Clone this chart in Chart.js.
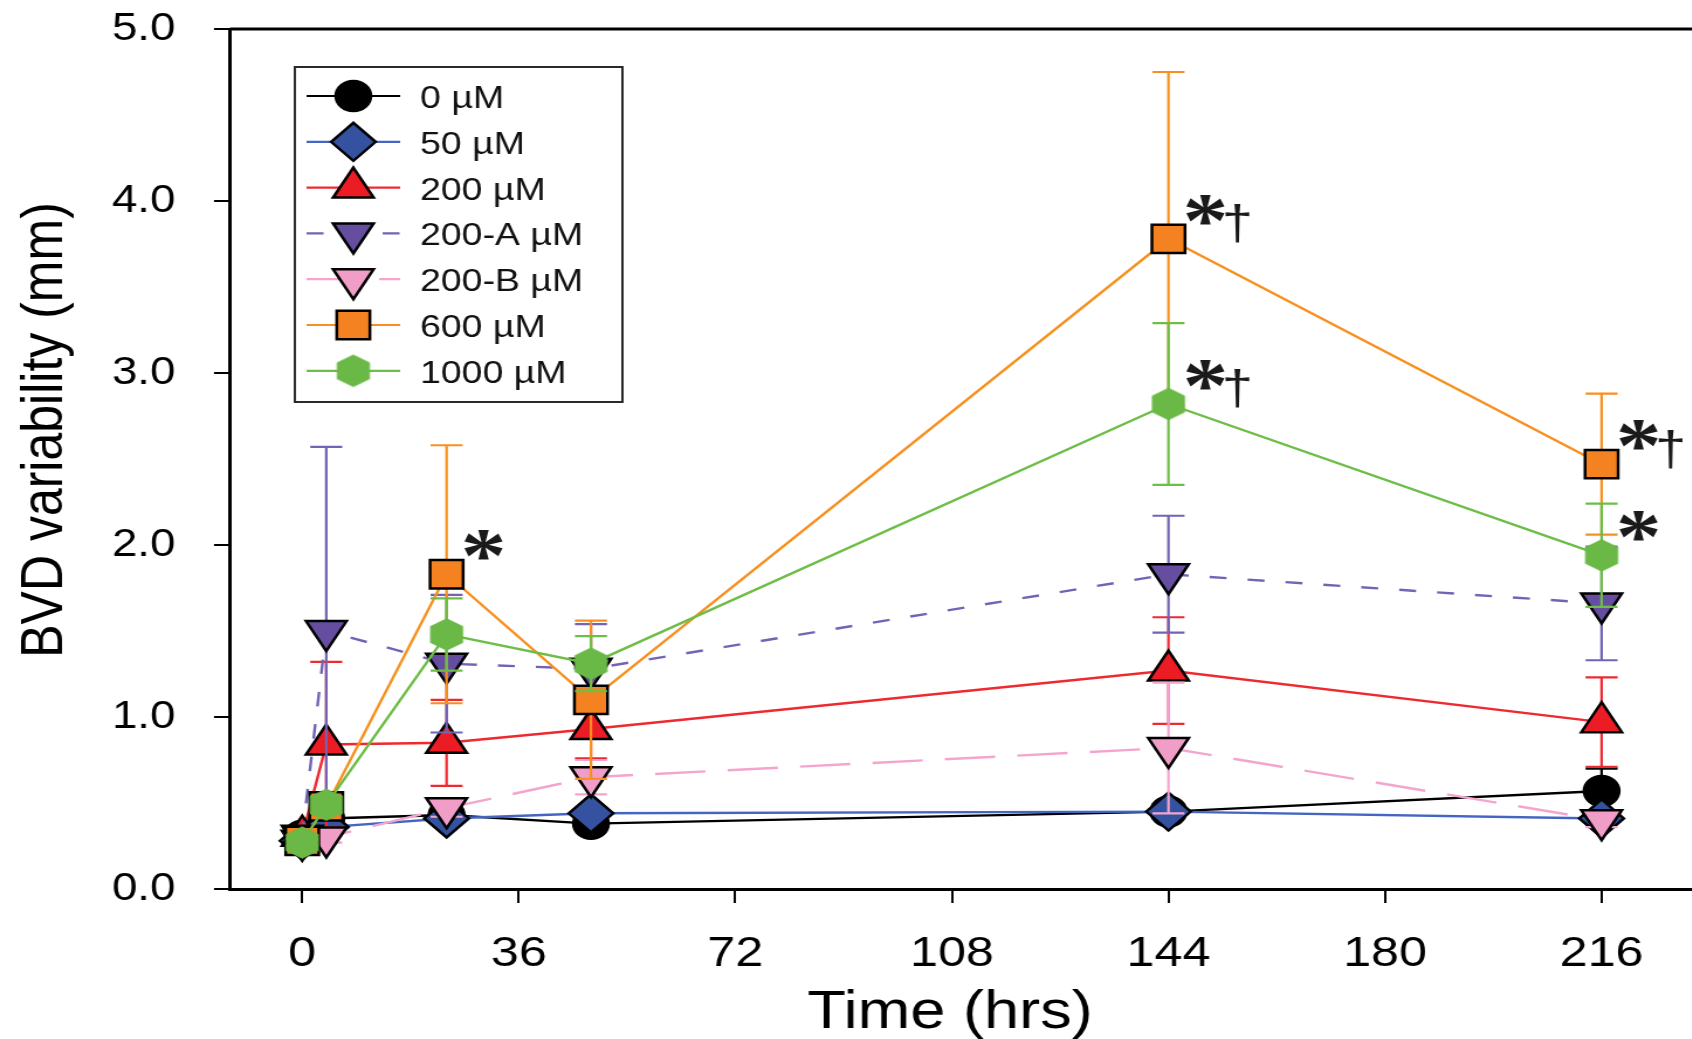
<!DOCTYPE html>
<html>
<head>
<meta charset="utf-8">
<title>BVD variability</title>
<script src="https://cdn.jsdelivr.net/npm/chart.js"></script>
<style>
  html, body { margin: 0; padding: 0; background: #fff; overflow: hidden; }
  /* the original figure is stretched sideways, so draw on a narrower canvas and widen it */
  #wrap { width: 1446px; height: 1039px; transform: scaleX(1.17); transform-origin: 0 0; }
</style>
</head>
<body>
<div id="wrap"><canvas id="bvdChart" width="1446" height="1039"></canvas></div>
<script>
// ==== data ====
const hours  = [0, 4, 24, 48, 144, 216];
const xTicks = [0, 36, 72, 108, 144, 180, 216];
const yTicks = [0, 1, 2, 3, 4, 5];

const seriesNames = ["0 µM", "50 µM", "200 µM", "200-A µM", "200-B µM", "600 µM", "1000 µM"];

// mean BVD variability (mm)
const bvd0     = [0.31, 0.41, 0.43, 0.38, 0.45, 0.57];
const bvd50    = [0.28, 0.36, 0.41, 0.44, 0.45, 0.41];
const bvd200   = [0.31, 0.84, 0.85, 0.93, 1.27, 0.97];
const bvd200A  = [0.31, 1.50, 1.31, 1.28, 1.83, 1.66];
const bvd200B  = [0.28, 0.30, 0.47, 0.65, 0.82, 0.40];
const bvd600   = [0.28, 0.48, 1.83, 1.10, 3.78, 2.47];
const bvd1000  = [0.27, 0.49, 1.48, 1.31, 2.82, 1.94];

// error bar half-lengths (mm)
const err0     = [0.03, 0.03, 0.03, 0.03, 0.03, 0.13];
const err50    = [0.02, 0.03, 0.03, 0.03, 0.03, 0.03];
const err200   = [0.03, 0.48, 0.25, 0.17, 0.31, 0.26];
const err200A  = [0.03, 1.07, 0.40, 0.26, 0.34, 0.33];
const err200B  = [0.02, 0.03, 0.05, 0.10, 0.38, 0.04];
const err600   = [0.02, 0.05, 0.75, 0.46, 0.97, 0.41];
const err1000  = [0.02, 0.05, 0.21, 0.16, 0.47, 0.30];

const seriesValues = [bvd0, bvd50, bvd200, bvd200A, bvd200B, bvd600, bvd1000];
const seriesErrors = [err0, err50, err200, err200A, err200B, err600, err1000];

// significance marks: series index, time index, text
const marks = [
  { series: 5, point: 2, text: "*" },
  { series: 5, point: 4, text: "*†" },
  { series: 6, point: 4, text: "*†" },
  { series: 5, point: 5, text: "*†" },
  { series: 6, point: 5, text: "*" }
];

// ==== look ====
function makeHexagon(r, color) {
  const c = document.createElement("canvas");
  const w = Math.ceil(r * Math.sqrt(3)) + 2, h = Math.ceil(2 * r) + 2;
  c.width = w; c.height = h;
  const g = c.getContext("2d");
  g.fillStyle = color;
  g.beginPath();
  for (let k = 0; k < 6; k++) {
    const a = Math.PI / 2 + k * Math.PI / 3;
    const px = w / 2 + r * Math.cos(a), py = h / 2 - r * Math.sin(a);
    if (k === 0) g.moveTo(px, py); else g.lineTo(px, py);
  }
  g.closePath();
  g.fill();
  return c;
}

const styles = [
  { line: "#000000", fill: "#000000", shape: "circle",   radius: 15, rot: 0,   dash: [] },
  { line: "#4466c2", fill: "#34529f", shape: "rectRot",  radius: 19, rot: 0,   dash: [] },
  { line: "#ee2a30", fill: "#ec1c24", shape: "triangle", radius: 20, rot: 0,   dash: [] },
  { line: "#7263b4", fill: "#654ea0", shape: "triangle", radius: 20, rot: 180, dash: [14.5, 18] },
  { line: "#f4a5cd", fill: "#f09ec8", shape: "triangle", radius: 20, rot: 180, dash: [43, 19] },
  { line: "#f7901e", fill: "#f48220", shape: "rect",     radius: 20, rot: 0,   dash: [] },
  { line: "#6dbd46", fill: "#6ab845", shape: makeHexagon(16.3, "#6ab845"), radius: 16, rot: 0, dash: [] }
];

const datasets = seriesNames.map((name, i) => ({
  label: name,
  data: hours.map((h, j) => ({ x: h, y: seriesValues[i][j] })),
  borderColor: styles[i].line,
  borderWidth: 2.4,
  borderDash: styles[i].dash,
  pointStyle: styles[i].shape,
  pointRadius: styles[i].radius,
  pointRotation: styles[i].rot,
  pointBackgroundColor: styles[i].fill,
  pointBorderColor: "#000000",
  pointBorderWidth: 2.5,
  tension: 0,
  fill: false,
  order: seriesNames.length - 1 - i   // later series on top
}));

// ==== plugins ====
const capHalf = 13.7;

const errorBars = {
  id: "errorBars",
  beforeDatasetDraw(chart, args) {
    const ds = chart.data.datasets[args.index];
    const errs = seriesErrors[args.index];
    const yScale = chart.scales.y;
    const ctx = chart.ctx;
    ctx.save();
    ctx.strokeStyle = ds.borderColor;
    ctx.lineWidth = 2.2;
    ctx.setLineDash([]);
    args.meta.data.forEach((pt, i) => {
      const v = ds.data[i].y, e = errs[i];
      const yTop = yScale.getPixelForValue(v + e);
      const yBot = yScale.getPixelForValue(v - e);
      ctx.beginPath();
      ctx.moveTo(pt.x, yTop); ctx.lineTo(pt.x, yBot);
      ctx.moveTo(pt.x - capHalf, yTop); ctx.lineTo(pt.x + capHalf, yTop);
      ctx.moveTo(pt.x - capHalf, yBot); ctx.lineTo(pt.x + capHalf, yBot);
      ctx.stroke();
    });
    ctx.restore();
  }
};

function drawCentered(ctx, text, cx, cy) {
  const m = ctx.measureText(text);
  ctx.fillText(text, cx, cy + (m.actualBoundingBoxAscent - m.actualBoundingBoxDescent) / 2);
}

const frameAndText = {
  id: "frameAndText",
  beforeDatasetsDraw(chart) {
    // top frame line
    const { ctx, chartArea } = chart;
    ctx.save();
    ctx.strokeStyle = "#000";
    ctx.lineWidth = 3;
    ctx.beginPath();
    ctx.moveTo(chartArea.left, chartArea.top);
    ctx.lineTo(chart.width, chartArea.top);
    ctx.stroke();
    ctx.restore();
  },
  afterDatasetsDraw(chart) {
    const ctx = chart.ctx;
    ctx.save();
    ctx.fillStyle = "#1a1a1a";
    ctx.textAlign = "center";
    ctx.textBaseline = "alphabetic";
    marks.forEach(m => {
      const pt = chart.getDatasetMeta(m.series).data[m.point];
      ctx.font = 'bold 78px "Liberation Serif", serif';
      drawCentered(ctx, "*", pt.x + 31.6, pt.y - 29);
      if (m.text.includes("†")) {
        ctx.font = '48px "Liberation Sans", Arial, sans-serif';
        drawCentered(ctx, "†", pt.x + 59, pt.y - 15);
      }
    });
    ctx.restore();
  },
  afterDraw(chart) {
    const ctx = chart.ctx;
    ctx.save();
    // axis titles
    ctx.fillStyle = "#000";
    ctx.textAlign = "center";
    ctx.textBaseline = "alphabetic";
    ctx.font = '54px "Liberation Sans", Arial, sans-serif';
    ctx.fillText("Time (hrs)", 812, 1028);
    ctx.save();
    ctx.translate(53, 430);
    ctx.rotate(-Math.PI / 2);
    ctx.font = '50px "Liberation Sans", Arial, sans-serif';
    ctx.fillText("BVD variability (mm)", 0, 0);
    ctx.restore();

    // legend box
    const x0 = 252, y0 = 67, w = 280, h = 335;
    ctx.fillStyle = "#fff";
    ctx.fillRect(x0, y0, w, h);
    ctx.strokeStyle = "#2a2a2a";
    ctx.lineWidth = 2;
    ctx.strokeRect(x0, y0, w, h);
    chart.data.datasets.forEach((ds, i) => {
      const y = 96 + i * 45.8;
      ctx.strokeStyle = ds.borderColor;
      ctx.lineWidth = 2.2;
      ctx.setLineDash(ds.borderDash || []);
      ctx.beginPath();
      ctx.moveTo(262, y); ctx.lineTo(342, y);
      ctx.stroke();
      ctx.setLineDash([]);
      ctx.fillStyle = ds.pointBackgroundColor;
      ctx.strokeStyle = ds.pointBorderColor;
      ctx.lineWidth = ds.pointBorderWidth;
      Chart.helpers.drawPoint(ctx, {
        pointStyle: ds.pointStyle,
        rotation: ds.pointRotation || 0,
        radius: ds.pointRadius,
        borderWidth: ds.pointBorderWidth
      }, 302, y);
      ctx.fillStyle = "#111";
      ctx.textAlign = "left";
      ctx.font = '32px "Liberation Sans", Arial, sans-serif';
      ctx.fillText(ds.label, 359, y + 12);
    });
    ctx.restore();
  }
};

// ==== chart ====
new Chart(document.getElementById("bvdChart"), {
  type: "line",
  data: { datasets },
  options: {
    responsive: false,
    animation: false,
    devicePixelRatio: 1,
    events: [],
    layout: { autoPadding: false, padding: { top: 29, right: 0, left: 0, bottom: 0 } },
    plugins: { legend: { display: false }, tooltip: { enabled: false } },
    scales: {
      x: {
        type: "linear",
        min: -12,
        max: 231,
        offset: false,
        afterBuildTicks: s => { s.ticks = xTicks.map(v => ({ value: v })); },
        afterFit: s => { s.height = 150; s.paddingLeft = 0; s.paddingRight = 0; },
        border: { display: true, color: "#000", width: 3 },
        grid: { drawOnChartArea: false, drawTicks: true, tickLength: 14, color: "#000", lineWidth: 2 },
        ticks: {
          color: "#000",
          padding: 25,
          maxRotation: 0,
          font: { family: '"Liberation Sans", Arial, sans-serif', size: 43 },
          callback: v => String(v)
        }
      },
      y: {
        min: 0,
        max: 5,
        afterBuildTicks: s => { s.ticks = yTicks.map(v => ({ value: v })); },
        afterFit: s => { s.width = 196.6; s.paddingTop = 0; s.paddingBottom = 0; },
        border: { display: true, color: "#000", width: 3 },
        grid: { drawOnChartArea: false, drawTicks: true, tickLength: 13.7, color: "#000", lineWidth: 2 },
        ticks: {
          color: "#000",
          padding: 33,
          font: { family: '"Liberation Sans", Arial, sans-serif', size: 39 },
          callback: v => Number(v).toFixed(1)
        }
      }
    }
  },
  plugins: [errorBars, frameAndText]
});
</script>
</body>
</html>
